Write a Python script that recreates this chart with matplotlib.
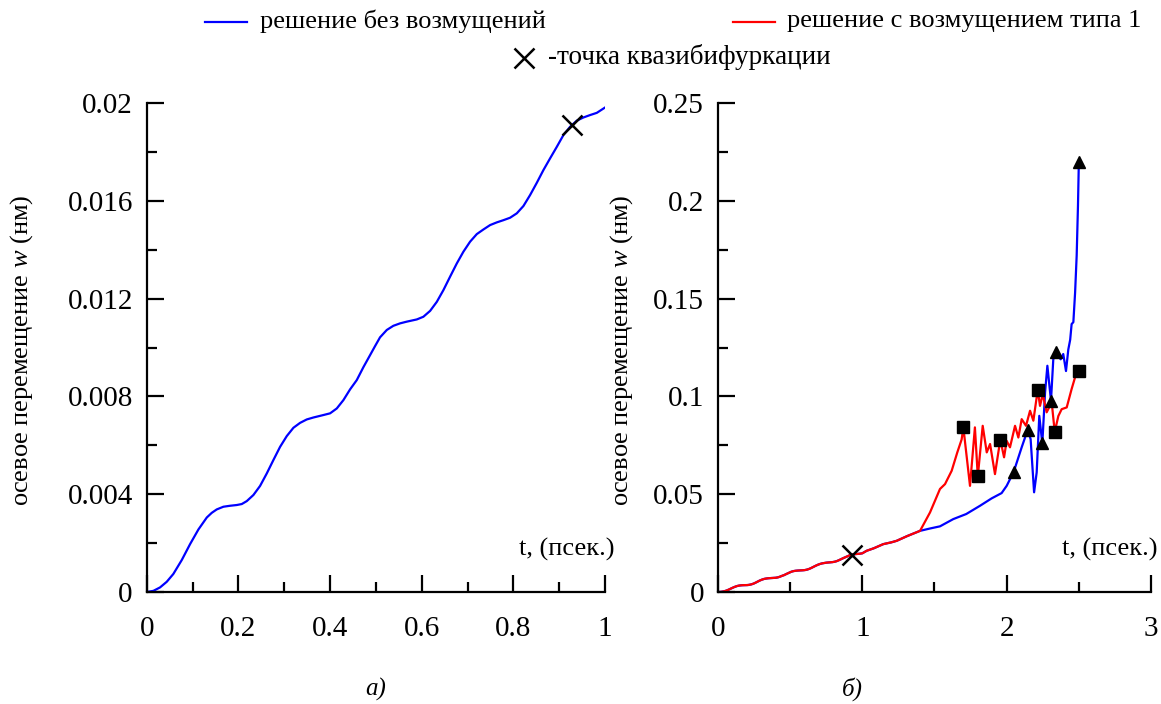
import numpy as np
import matplotlib
matplotlib.use("Agg")
import matplotlib.pyplot as plt
from matplotlib.lines import Line2D
from matplotlib.ticker import MultipleLocator

plt.rcParams['font.family'] = ['Liberation Serif', 'DejaVu Serif']
plt.rcParams['mathtext.fontset'] = 'custom'
plt.rcParams['mathtext.rm'] = 'Liberation Serif'
plt.rcParams['mathtext.it'] = 'Liberation Serif:italic'

# а) unperturbed solution, t in [0, 1]
t_a = [0.0, 0.0145, 0.029, 0.0436, 0.058, 0.0764, 0.0945, 0.1127, 0.131, 0.1418,
       0.1527, 0.1672, 0.1818, 0.1964, 0.2073, 0.2182, 0.2327, 0.2472, 0.2618, 0.2763,
       0.2909, 0.3055, 0.32, 0.3345, 0.3491, 0.3636, 0.3853, 0.4, 0.4146, 0.429,
       0.4436, 0.4582, 0.4727, 0.4872, 0.4981, 0.509, 0.5237, 0.538, 0.5527, 0.5673,
       0.5891, 0.6035, 0.6182, 0.6328, 0.6472, 0.6618, 0.6764, 0.6908, 0.7054, 0.72,
       0.7345, 0.7491, 0.7637, 0.7781, 0.7927, 0.8073, 0.8218, 0.8364, 0.851, 0.8654,
       0.88, 0.8946, 0.909, 0.9236, 0.9382, 0.9526, 0.9673, 0.9819, 1.0]
w_a = [0.0, 0.00005, 0.00019, 0.00042, 0.00074, 0.00131, 0.00196, 0.00256, 0.00305, 0.00324,
       0.00338, 0.00349, 0.00353, 0.00356, 0.0036, 0.00372, 0.00397, 0.00434, 0.00485, 0.0054,
       0.00594, 0.00638, 0.00672, 0.00692, 0.00706, 0.00714, 0.00724, 0.00731, 0.00751, 0.00785,
       0.00829, 0.00867, 0.0092, 0.00969, 0.01006, 0.01042, 0.01072, 0.01089, 0.01099, 0.01106,
       0.01115, 0.01126, 0.0115, 0.01187, 0.01235, 0.0129, 0.01344, 0.01392, 0.01433, 0.01464,
       0.01483, 0.01501, 0.01512, 0.01521, 0.01531, 0.01549, 0.01579, 0.01624, 0.01674, 0.01726,
       0.01774, 0.01821, 0.01869, 0.01903, 0.01928, 0.01941, 0.01951, 0.0196, 0.01982]
t_bif, w_bif = 0.927, 0.0191

# б) common part of both solutions, t in (1, 1.4]
t_common = [1.03, 1.08, 1.145, 1.2, 1.238, 1.31, 1.36, 1.4]
w_common = [0.0211, 0.0224, 0.0245, 0.0254, 0.0262, 0.0286, 0.0301, 0.0313]

# б) unperturbed solution after t = 1.4
t_blue = [1.469, 1.538, 1.63, 1.72, 1.815, 1.896, 1.965, 2.0, 2.049, 2.104,
          2.146, 2.166, 2.19, 2.208, 2.226, 2.247, 2.266, 2.282, 2.307, 2.323,
          2.344, 2.374, 2.392, 2.411, 2.427, 2.44, 2.45, 2.462, 2.474, 2.485,
          2.494, 2.5]
w_blue = [0.0325, 0.0336, 0.0373, 0.0399, 0.0441, 0.0479, 0.0506, 0.0543, 0.0615, 0.074,
          0.083, 0.0782, 0.051, 0.0612, 0.0901, 0.076, 0.102, 0.1157, 0.0978, 0.119,
          0.1225, 0.119, 0.1217, 0.113, 0.124, 0.129, 0.137, 0.138, 0.153, 0.172,
          0.1975, 0.22]

# б) solution with perturbation of type 1 after t = 1.4
t_red = [1.469, 1.538, 1.573, 1.619, 1.658, 1.688, 1.70, 1.746, 1.78, 1.80,
         1.834, 1.862, 1.885, 1.919, 1.956, 1.982, 2.0, 2.023, 2.058, 2.081,
         2.104, 2.134, 2.162, 2.185, 2.215, 2.231, 2.25, 2.277, 2.312, 2.333,
         2.358, 2.381, 2.416, 2.45, 2.474, 2.5]
w_red = [0.0407, 0.0527, 0.0552, 0.062, 0.0714, 0.078, 0.0842, 0.0543, 0.0842, 0.0591,
         0.085, 0.0714, 0.0757, 0.0603, 0.0779, 0.0689, 0.0773, 0.074, 0.085, 0.079,
         0.0884, 0.085, 0.0927, 0.0876, 0.1033, 0.0952, 0.1012, 0.0919, 0.097, 0.0819,
         0.090, 0.0935, 0.0944, 0.1038, 0.1098, 0.113]

# marked points
t_sq = [1.70, 1.80, 1.956, 2.215, 2.333, 2.5]
w_sq = [0.0842, 0.0591, 0.0779, 0.1033, 0.0819, 0.113]
t_tri = [2.049, 2.146, 2.247, 2.307, 2.344, 2.5]
w_tri = [0.0615, 0.083, 0.076, 0.0978, 0.1225, 0.22]

ylabel = 'осевое перемещение $w$ (нм)'
xlabel = 't, (псек.)'

fig = plt.figure(figsize=(11.61, 7.04), dpi=100)
ax1 = fig.add_axes([0.1264, 0.159, 0.3948, 0.6946])
ax2 = fig.add_axes([0.6184, 0.159, 0.373, 0.6946])


def style(ax):
    for s in ('top', 'right'):
        ax.spines[s].set_visible(False)
    for s in ('left', 'bottom'):
        ax.spines[s].set_linewidth(1.6)
    ax.tick_params(which='both', direction='in', width=1.6, labelsize=21)
    ax.tick_params(which='major', length=12)
    ax.tick_params(which='minor', length=7.5)
    ax.tick_params(axis='x', pad=17)
    ax.tick_params(axis='y', pad=10)


# а)
ax1.plot(t_a, w_a, color='#0000ff', lw=1.6)
ax1.plot(t_bif, w_bif, marker='x', color='black', ms=15, mew=1.8, ls='none')
ax1.set_xlim(0, 1)
ax1.set_ylim(0, 0.02)
ax1.xaxis.set_minor_locator(MultipleLocator(0.1))
ax1.yaxis.set_minor_locator(MultipleLocator(0.002))
ax1.set_xticks([0, 0.2, 0.4, 0.6, 0.8, 1.0], ['0', '0.2', '0.4', '0.6', '0.8', '1'])
ax1.set_yticks([0, 0.004, 0.008, 0.012, 0.016, 0.02],
               ['0', '0.004', '0.008', '0.012', '0.016', '0.02'])
style(ax1)
ax1.text(1.0 + 9 / 458, 0.088, xlabel, transform=ax1.transAxes, ha='right', va='center', fontsize=19)

# б)
t_b_blue = t_a + t_common + t_blue
w_b_blue = w_a + w_common + w_blue
t_b_red = t_a + t_common + t_red
w_b_red = w_a + w_common + w_red
ax2.plot(t_b_blue, w_b_blue, color='#0000ff', lw=1.6)
ax2.plot(t_b_red, w_b_red, color='#ff0000', lw=1.6)
ax2.plot(t_sq, w_sq, marker='s', color='black', ms=8, ls='none')
ax2.plot(t_tri, w_tri, marker='^', color='black', ms=9, ls='none')
ax2.plot(t_bif, w_bif, marker='x', color='black', ms=15, mew=1.8, ls='none')
ax2.set_xlim(0, 3)
ax2.set_ylim(0, 0.25)
ax2.xaxis.set_minor_locator(MultipleLocator(0.5))
ax2.yaxis.set_minor_locator(MultipleLocator(0.025))
ax2.set_xticks([0, 1, 2, 3], ['0', '1', '2', '3'])
ax2.set_yticks([0, 0.05, 0.1, 0.15, 0.2, 0.25],
               ['0', '0.05', '0.1', '0.15', '0.2', '0.25'])
style(ax2)
ax2.text(1.0 + 6 / 433, 0.088, xlabel, transform=ax2.transAxes, ha='right', va='center', fontsize=19)

# axis titles and captions
fig.text(22 / 1161, 1 - 350 / 704, ylabel, rotation=90, ha='center', va='center', fontsize=19)
fig.text(622 / 1161, 1 - 350 / 704, ylabel, rotation=90, ha='center', va='center', fontsize=19)
fig.text(376 / 1161, 1 - 689 / 704, 'а)', style='italic', ha='center', va='center', fontsize=18)
fig.text(852 / 1161, 1 - 689 / 704, 'б)', style='italic', ha='center', va='center', fontsize=18)

# legend
fig.add_artist(Line2D([205 / 1161, 247 / 1161], [1 - 22 / 704] * 2, color='#0000ff', lw=1.6))
fig.text(260 / 1161, 1 - 21 / 704, 'решение без возмущений', ha='left', va='center', fontsize=19)
fig.add_artist(Line2D([733 / 1161, 775 / 1161], [1 - 22 / 704] * 2, color='#ff0000', lw=1.6))
fig.text(787 / 1161, 1 - 21 / 704, 'решение с возмущением типа 1', ha='left', va='center', fontsize=19)
fig.add_artist(Line2D([524 / 1161], [1 - 58 / 704], marker='x', color='black', ms=15, mew=1.8))
fig.text(548 / 1161, 1 - 57 / 704, '-точка квазибифуркации', ha='left', va='center', fontsize=19.5)

fig.savefig('out.png', dpi=100)
